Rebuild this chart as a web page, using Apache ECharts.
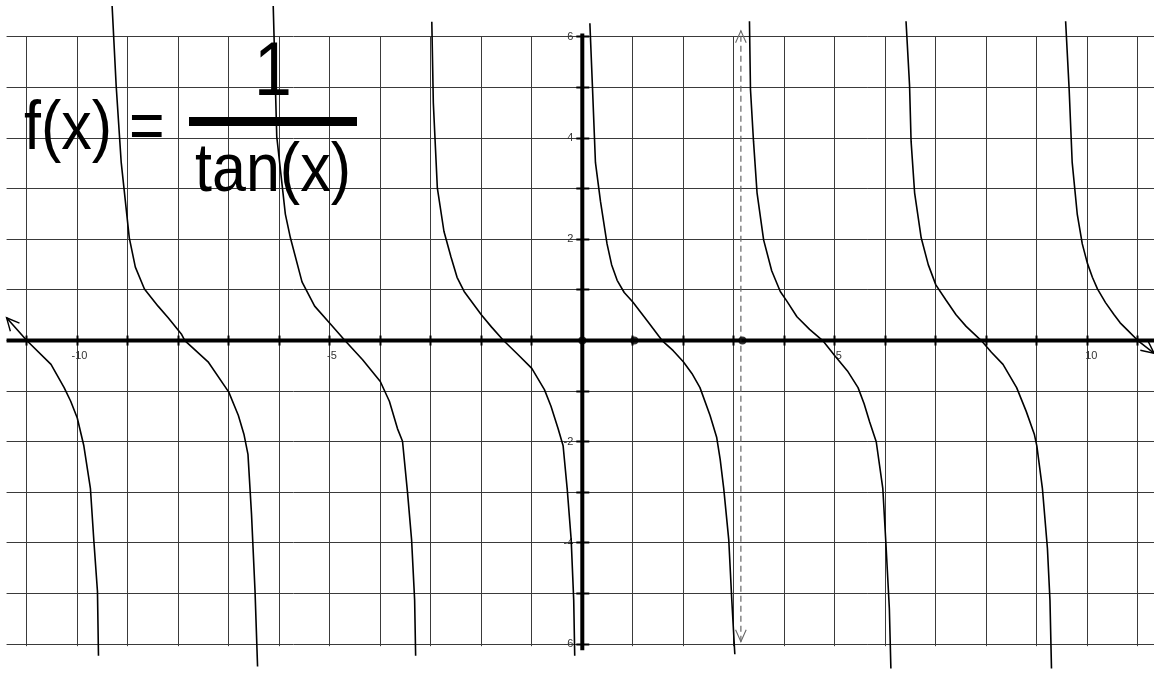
<!DOCTYPE html>
<html>
<head>
<meta charset="utf-8">
<script src="https://cdn.jsdelivr.net/npm/echarts@6/dist/echarts.min.js"></script>
<style>
html,body{margin:0;padding:0;background:#fff;}
#chart{width:1154px;height:673px;}
</style>
</head>
<body>
<div id="chart"></div>
<script>
// ---- axis / grid values ----
const xGridValues = [-11,-10,-9,-8,-7,-6,-5,-4,-3,-2,-1,0,1,2,3,4,5,6,7,8,9,10,11];
const yGridValues = [-6,-5,-4,-3,-2,-1,0,1,2,3,4,5,6];
const xLabelValues = [-10,-5,5,10];
const yLabelValues = [-6,-4,-2,2,4,6];
const xView = [-11.53, 11.32];
const yView = [-6.57, 6.73];
const gridYExtent = [-6, 6];
const xAxisExtent = [-11.4, 11.32];
const yAxisExtent = [-6.12, 6.07];

// ---- f(x) = 1/tan(x), branch by branch ----
const branchAx = [-11.40, -11.0, -10.52, -10.26, -10.13, -10.0, -9.87, -9.74, -9.67, -9.60, -9.58];
const branchAy = [0.45, 0.0, -0.47, -0.93, -1.20, -1.53, -2.08, -2.92, -3.98, -4.96, -6.23];
const branchBx = [-9.31, -9.23, -9.13, -8.97, -8.85, -8.67, -8.40, -8.20, -7.94, -7.87, -7.41, -7.0, -6.81, -6.70, -6.62, -6.55, -6.48, -6.43];
const branchBy = [6.61, 5.04, 3.52, 2.03, 1.45, 1.02, 0.68, 0.45, 0.13, 0.0, -0.42, -1.02, -1.48, -1.85, -2.25, -3.43, -4.96, -6.44];
const branchCx = [-6.12, -6.05, -5.88, -5.78, -5.55, -5.30, -5.0, -4.70, -4.35, -4.0, -3.82, -3.66, -3.56, -3.46, -3.38, -3.32, -3.30];
const branchCy = [6.61, 4.03, 2.5, 2.03, 1.16, 0.68, 0.34, 0.0, -0.38, -0.81, -1.20, -1.74, -1.99, -3.01, -3.94, -5.13, -6.23];
const branchDx = [-2.98, -2.95, -2.87, -2.74, -2.60, -2.48, -2.34, -2.0, -1.80, -1.56, -1.28, -1.0, -0.75, -0.62, -0.48, -0.38, -0.30, -0.22, -0.17, -0.15];
const branchDy = [6.30, 4.70, 3.01, 2.16, 1.65, 1.25, 0.97, 0.51, 0.27, 0.0, -0.27, -0.55, -0.97, -1.30, -1.74, -2.08, -2.92, -3.94, -5.13, -6.23];
const branchEx = [0.15, 0.20, 0.26, 0.36, 0.49, 0.58, 0.69, 0.83, 1.0, 1.30, 1.58, 1.80, 2.0, 2.17, 2.33, 2.53, 2.66, 2.73, 2.80, 2.90, 2.96, 3.02];
const branchEy = [6.27, 5.04, 3.52, 2.75, 1.91, 1.50, 1.19, 0.95, 0.76, 0.37, 0.0, -0.20, -0.42, -0.65, -0.93, -1.48, -1.91, -2.35, -2.92, -3.94, -5.13, -6.20];
const branchFx = [3.31, 3.33, 3.39, 3.46, 3.59, 3.75, 3.92, 4.05, 4.25, 4.50, 4.76, 5.0, 5.25, 5.46, 5.58, 5.69, 5.82, 5.95, 6.01, 6.08, 6.11];
const branchFy = [6.31, 4.96, 3.94, 2.92, 1.99, 1.38, 0.97, 0.78, 0.47, 0.22, 0.0, -0.30, -0.60, -0.93, -1.25, -1.61, -2.0, -2.92, -3.98, -5.30, -6.48];
const branchGx = [6.41, 6.48, 6.51, 6.58, 6.71, 6.85, 7.0, 7.20, 7.40, 7.60, 7.90, 8.10, 8.33, 8.60, 8.79, 8.95, 9.0, 9.11, 9.21, 9.26, 9.29];
const branchGy = [6.31, 5.04, 3.94, 2.92, 2.03, 1.50, 1.10, 0.80, 0.51, 0.28, 0.0, -0.23, -0.47, -0.93, -1.40, -1.85, -2.08, -2.92, -4.11, -5.13, -6.48];
const branchHx = [9.57, 9.64, 9.70, 9.80, 9.90, 10.0, 10.10, 10.20, 10.36, 10.53, 10.65, 10.79, 11.0, 11.32];
const branchHy = [6.31, 4.96, 3.52, 2.5, 1.91, 1.53, 1.25, 1.02, 0.75, 0.51, 0.35, 0.21, 0.0, -0.25];

// ---- marked points and the dashed asymptote ----
const pointX = [0, 1.03, 3.17];
const pointY = [0, 0, 0];
const dashX = [3.14, 3.14];
const dashY = [-5.95, 6.12];

const branches = [
  [branchAx, branchAy], [branchBx, branchBy], [branchCx, branchCy], [branchDx, branchDy],
  [branchEx, branchEy], [branchFx, branchFy], [branchGx, branchGy], [branchHx, branchHy]
];
const zip = (xs, ys) => xs.map((x, i) => [x, ys[i]]);

const gridColor = '#3a3a3a';
const FONT = '"Liberation Sans", Arial, Helvetica, sans-serif';
const LABEL_SIZE = 11;

const chart = echarts.init(document.getElementById('chart'));

function crisp(v) { return Math.round(v - 0.5) + 0.5; }

function vGridRender(params, api) {
  const v = api.value(0);
  const p1 = api.coord([v, gridYExtent[1]]);
  const p2 = api.coord([v, gridYExtent[0]]);
  const x = crisp(p1[0]);
  return { type: 'line', silent: true, shape: { x1: x, y1: p1[1], x2: x, y2: p2[1] + 2 },
    style: { stroke: gridColor, lineWidth: 1 } };
}
function hGridRender(params, api) {
  const v = api.value(1);
  const p1 = api.coord([xAxisExtent[0], v]);
  const p2 = api.coord([xAxisExtent[1], v]);
  const y = crisp(p1[1]);
  return { type: 'line', silent: true, shape: { x1: p1[0], y1: y, x2: p2[0], y2: y },
    style: { stroke: gridColor, lineWidth: 1 } };
}
function xTickRender(params, api) {
  const p = api.coord([api.value(0), 0]);
  const x = crisp(p[0]);
  return { type: 'line', silent: true, shape: { x1: x, y1: p[1] - 5, x2: x, y2: p[1] + 5 },
    style: { stroke: '#000', lineWidth: 2 } };
}
function yTickRender(params, api) {
  const p = api.coord([0, api.value(1)]);
  const y = crisp(p[1]);
  return { type: 'line', silent: true, shape: { x1: p[0] - 6, y1: y, x2: p[0] + 7, y2: y },
    style: { stroke: '#000', lineWidth: 2 } };
}
function axesRender(params, api) {
  const p1 = api.coord([api.value(0), api.value(1)]);
  const p2 = api.coord([api.value(2), api.value(3)]);
  return { type: 'line', silent: true, shape: { x1: p1[0], y1: p1[1], x2: p2[0], y2: p2[1] },
    style: { stroke: '#000', lineWidth: 4 } };
}
function xLabelRender(params, api) {
  const v = api.value(0);
  const p = api.coord([v, 0]);
  const digitsW = String(Math.abs(v)).length * 0.556 * LABEL_SIZE;
  return { type: 'text', silent: true, x: p[0] + 4 + digitsW / 2, y: p[1] + 10,
    style: { text: String(v), font: LABEL_SIZE + 'px ' + FONT, fill: '#333', align: 'right', verticalAlign: 'top' } };
}
function yLabelRender(params, api) {
  const v = api.value(1);
  const p = api.coord([0, v]);
  return { type: 'text', silent: true, x: p[0] - 9, y: p[1],
    style: { text: String(v), font: LABEL_SIZE + 'px ' + FONT, fill: '#333', align: 'right', verticalAlign: 'middle' } };
}
function arrowRender(color, len, ang, width) {
  return function (params, api) {
    const tip = api.coord([api.value(0), api.value(1)]);
    const tail = api.coord([api.value(2), api.value(3)]);
    const a = Math.atan2(tip[1] - tail[1], tip[0] - tail[0]);
    const b1 = [tip[0] - len * Math.cos(a - ang), tip[1] - len * Math.sin(a - ang)];
    const b2 = [tip[0] - len * Math.cos(a + ang), tip[1] - len * Math.sin(a + ang)];
    return { type: 'polyline', silent: true, shape: { points: [b1, tip, b2] },
      style: { stroke: color, lineWidth: width, fill: null } };
  };
}

const series = [];
series.push({ type: 'custom', name: 'vgrid', renderItem: vGridRender, z: 1,
  data: xGridValues.map(v => [v, 0]), encode: { x: 0, y: 1 } });
series.push({ type: 'custom', name: 'hgrid', renderItem: hGridRender, z: 1,
  data: yGridValues.map(v => [0, v]), encode: { x: 0, y: 1 } });
series.push({ type: 'custom', name: 'axes', renderItem: axesRender, z: 3,
  data: [[xAxisExtent[0], 0, xAxisExtent[1], 0], [0, yAxisExtent[1], 0, yAxisExtent[0]]],
  encode: { x: [0, 2], y: [1, 3] } });
series.push({ type: 'custom', name: 'xticks', renderItem: xTickRender, z: 3,
  data: xGridValues.map(v => [v, 0]), encode: { x: 0, y: 1 } });
series.push({ type: 'custom', name: 'yticks', renderItem: yTickRender, z: 3,
  data: yGridValues.map(v => [0, v]), encode: { x: 0, y: 1 } });
series.push({ type: 'custom', name: 'xlabels', renderItem: xLabelRender, z: 3,
  data: xLabelValues.map(v => [v, 0]), encode: { x: 0, y: 1 } });
series.push({ type: 'custom', name: 'ylabels', renderItem: yLabelRender, z: 3,
  data: yLabelValues.map(v => [0, v]), encode: { x: 0, y: 1 } });

// dashed vertical line with open arrowheads
series.push({ type: 'line', name: 'asymptote', data: zip(dashX, dashY), showSymbol: false, z: 4,
  lineStyle: { color: '#666', width: 1.2, type: [6, 4] }, silent: true });
series.push({ type: 'custom', name: 'dashArrows', renderItem: arrowRender('#666', 13, 0.42, 1.1), z: 4,
  data: [[dashX[1], dashY[1], dashX[1], 0], [dashX[0], dashY[0], dashX[0], 0]],
  encode: { x: [0, 2], y: [1, 3] } });

// curve branches
branches.forEach((b, i) => {
  series.push({ type: 'line', name: 'f' + i, data: zip(b[0], b[1]), showSymbol: false, smooth: false, z: 5,
    lineStyle: { color: '#000', width: 1.6 }, silent: true });
});
// arrowheads at the two ends of the plotted function
series.push({ type: 'custom', name: 'curveArrows', renderItem: arrowRender('#000', 14, 0.45, 1.4), z: 5,
  data: [[branchAx[0], branchAy[0], branchAx[1], branchAy[1]],
         [branchHx[branchHx.length - 1], branchHy[branchHy.length - 1], branchHx[branchHx.length - 2], branchHy[branchHy.length - 2]]],
  encode: { x: [0, 2], y: [1, 3] } });

// points
series.push({ type: 'scatter', name: 'points', data: zip(pointX, pointY), symbol: 'circle', symbolSize: 8, z: 6,
  itemStyle: { color: '#000' }, silent: true });

const option = {
  animation: false,
  backgroundColor: '#fff',
  grid: { left: 0, right: 0, top: 0, bottom: 0, containLabel: false, outerBoundsMode: 'none' },
  xAxis: { type: 'value', min: xView[0], max: xView[1], show: false },
  yAxis: { type: 'value', min: yView[0], max: yView[1], show: false },
  graphic: [
    { type: 'text', x: 24, y: 130, scaleY: 1.12, z: 100,
      style: { text: 'f(x) =', font: '61px ' + FONT, fill: '#000', align: 'left', verticalAlign: 'middle' } },
    { type: 'rect', z: 100, shape: { x: 189, y: 117, width: 168, height: 9 }, style: { fill: '#000' } },
    { type: 'text', x: 273, y: 74, scaleY: 1.12, z: 100,
      style: { text: '1', font: '68px ' + FONT, fill: '#000', align: 'center', verticalAlign: 'middle' } },
    { type: 'text', x: 273, y: 172, scaleY: 1.12, z: 100,
      style: { text: 'tan(x)', font: '61px ' + FONT, fill: '#000', align: 'center', verticalAlign: 'middle' } }
  ],
  series: series
};
chart.setOption(option);
</script>
</body>
</html>
